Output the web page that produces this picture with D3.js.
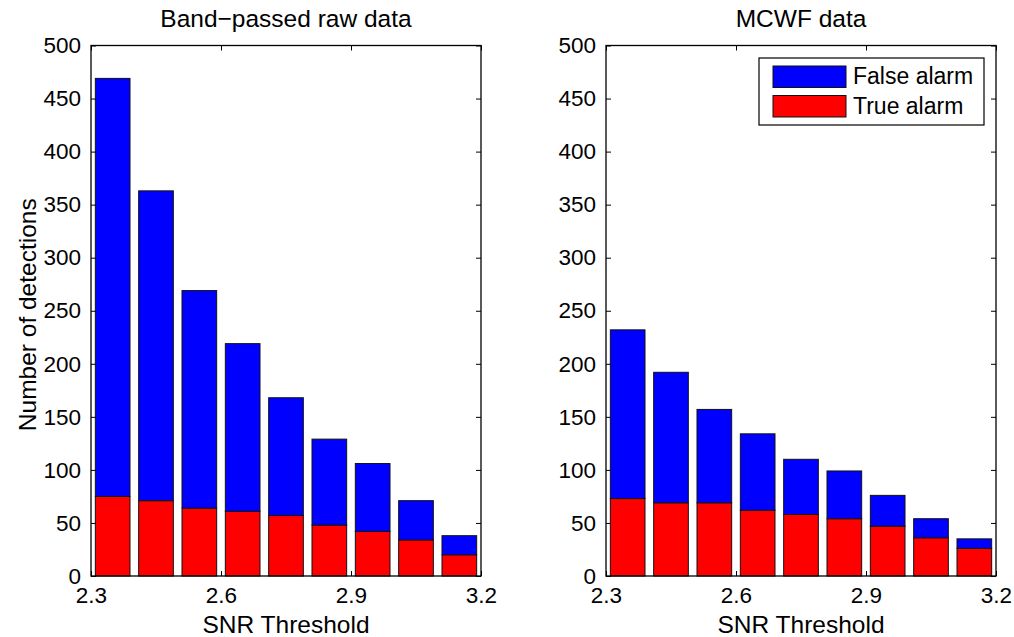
<!DOCTYPE html>
<html>
<head>
<meta charset="utf-8">
<script src="https://cdn.jsdelivr.net/npm/d3@7/dist/d3.min.js"></script>
<style>
  html, body { margin: 0; padding: 0; background: #fff; }
  svg text { font-family: "Liberation Sans", Arial, Helvetica, sans-serif; fill: #000; }
</style>
</head>
<body>
<svg id="chart" width="1014" height="637"></svg>
<script>
// SNR threshold bin centres
const thresholds = [2.35, 2.45, 2.55, 2.65, 2.75, 2.85, 2.95, 3.05, 3.15];

// Band-passed raw data: detections per threshold
const rawTrue  = [75, 71, 64, 61, 57, 48, 42, 34, 20];
const rawFalse = [394, 292, 205, 158, 111, 81, 64, 37, 18];

// MCWF data: detections per threshold
const mcwfTrue  = [73, 69, 69, 62, 58, 54, 47, 36, 26];
const mcwfFalse = [159, 123, 88, 72, 52, 45, 29, 18, 9];

// Axis ticks
const xTicks = [2.3, 2.6, 2.9, 3.2];
const yTicks = [0, 50, 100, 150, 200, 250, 300, 350, 400, 450, 500];

const seriesNames = ["True alarm", "False alarm"];
const seriesColors = { "True alarm": "#ff0000", "False alarm": "#0000ff" };

const svg = d3.select("#chart");
const TICK_FONT = 22.5;
const LEGEND_FONT = 23;
const LABEL_FONT = 24.5;
const barWidth = 0.08;
const tickLen = 5;

function drawPanel(opts) {
  const { left, right, top, bottom, title, trueVals, falseVals, yLabel, legend } = opts;
  const x = d3.scaleLinear().domain([2.3, 3.2]).range([left, right]);
  const y = d3.scaleLinear().domain([0, 500]).range([bottom, top]);

  const rows = thresholds.map((t, i) => ({ t, "True alarm": trueVals[i], "False alarm": falseVals[i] }));
  const stacked = d3.stack().keys(seriesNames)(rows);

  const g = svg.append("g");

  // stacked bars
  stacked.forEach(layer => {
    g.append("g").selectAll("rect").data(layer).join("rect")
      .attr("x", d => x(d.data.t - barWidth / 2))
      .attr("width", d => x(d.data.t + barWidth / 2) - x(d.data.t - barWidth / 2))
      .attr("y", d => y(d[1]))
      .attr("height", d => y(d[0]) - y(d[1]))
      .attr("fill", seriesColors[layer.key])
      .attr("stroke", "#111")
      .attr("stroke-width", 1);
  });

  // axes with inward ticks on all four sides
  const xb = d3.axisBottom(x).tickValues(xTicks).tickSizeInner(-tickLen).tickSizeOuter(0).tickPadding(11).tickFormat(d3.format(".1f"));
  const xt = d3.axisTop(x).tickValues(xTicks).tickSizeInner(-tickLen).tickSizeOuter(0).tickFormat("");
  const yl = d3.axisLeft(y).tickValues(yTicks).tickSizeInner(-tickLen).tickSizeOuter(0).tickPadding(10).tickFormat(d3.format("d"));
  const yr = d3.axisRight(y).tickValues(yTicks).tickSizeInner(-tickLen).tickSizeOuter(0).tickFormat("");

  const axes = [
    g.append("g").attr("transform", `translate(0,${bottom})`).call(xb),
    g.append("g").attr("transform", `translate(0,${top})`).call(xt),
    g.append("g").attr("transform", `translate(${left},0)`).call(yl),
    g.append("g").attr("transform", `translate(${right},0)`).call(yr)
  ];
  axes.forEach(a => {
    a.select(".domain").remove();
    a.selectAll(".tick line").attr("stroke", "#000").attr("stroke-width", 1);
    a.selectAll(".tick text").attr("font-size", TICK_FONT).attr("font-family", "Liberation Sans, Arial, sans-serif").attr("fill", "#000");
  });

  // box
  g.append("rect")
    .attr("x", left).attr("y", top)
    .attr("width", right - left).attr("height", bottom - top)
    .attr("fill", "none").attr("stroke", "#000").attr("stroke-width", 1.3);

  // title
  g.append("text")
    .attr("x", (left + right) / 2).attr("y", 27)
    .attr("text-anchor", "middle").attr("font-size", LABEL_FONT)
    .text(title);

  // x label
  g.append("text")
    .attr("x", (left + right) / 2).attr("y", 633)
    .attr("text-anchor", "middle").attr("font-size", LABEL_FONT)
    .text("SNR Threshold");

  if (yLabel) {
    g.append("text")
      .attr("transform", `translate(36,${(top + bottom) / 2 + 4}) rotate(-90)`)
      .attr("text-anchor", "middle").attr("font-size", LABEL_FONT)
      .text(yLabel);
  }

  if (legend) {
    const lg = g.append("g");
    lg.append("rect")
      .attr("x", 759).attr("y", 58).attr("width", 225).attr("height", 67)
      .attr("fill", "#fff").attr("stroke", "#000").attr("stroke-width", 1.2);
    const items = ["False alarm", "True alarm"];
    items.forEach((name, i) => {
      lg.append("rect")
        .attr("x", 773).attr("y", 66 + i * 29.5).attr("width", 73).attr("height", 21.5)
        .attr("fill", seriesColors[name]).attr("stroke", "#111").attr("stroke-width", 1);
      lg.append("text")
        .attr("x", 853).attr("y", 84 + i * 29.5)
        .attr("font-size", LEGEND_FONT)
        .text(name);
    });
  }
}

drawPanel({
  left: 91, right: 481, top: 45.5, bottom: 576,
  title: "Band\u2212passed raw data",
  trueVals: rawTrue, falseVals: rawFalse,
  yLabel: "Number of detections", legend: false
});

drawPanel({
  left: 606, right: 996, top: 45.5, bottom: 576,
  title: "MCWF data",
  trueVals: mcwfTrue, falseVals: mcwfFalse,
  yLabel: null, legend: true
});
</script>
</body>
</html>
